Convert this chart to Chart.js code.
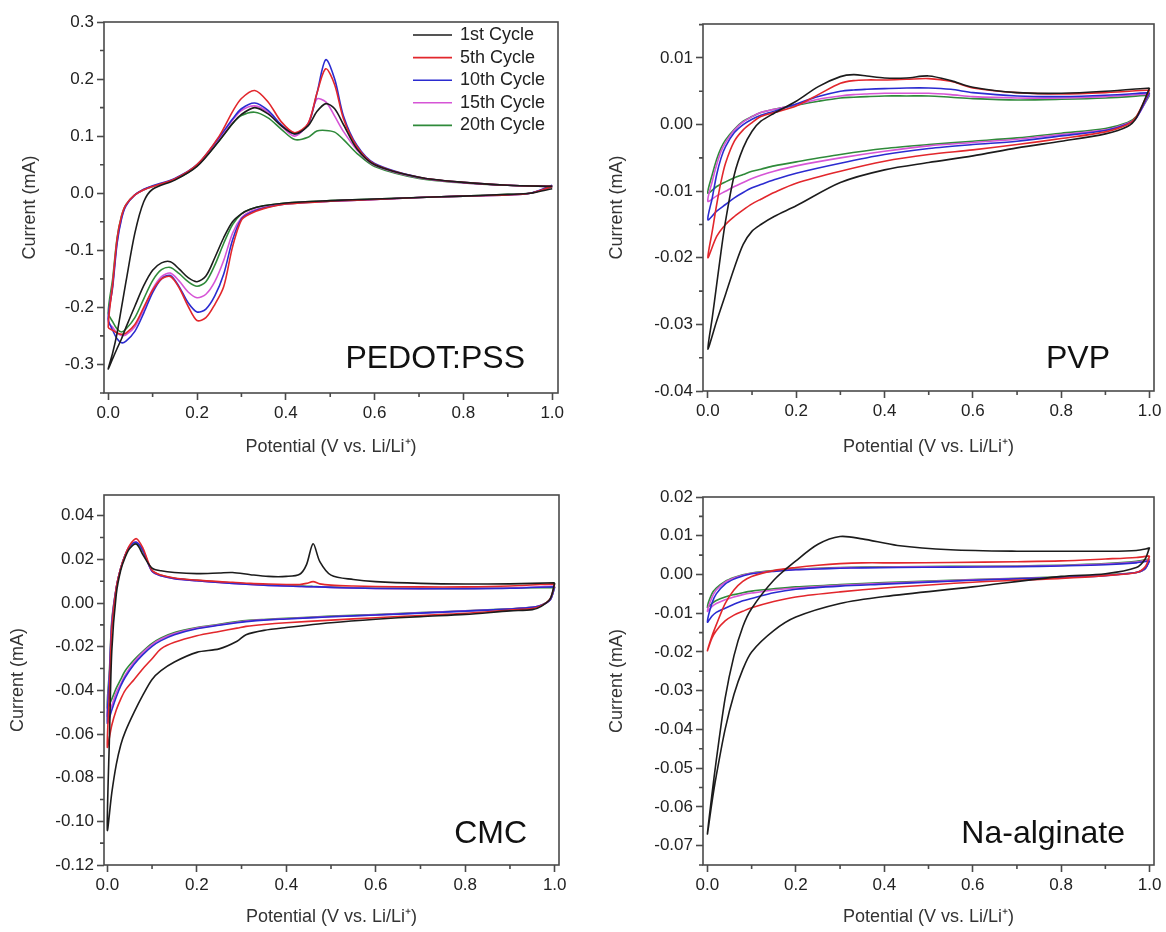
<!DOCTYPE html>
<html>
<head>
<meta charset="utf-8">
<script src="https://cdn.jsdelivr.net/npm/chart.js@4.4.1/dist/chart.umd.min.js"></script>
<style>
body { margin: 0; background: #fff; }
.panel { position: absolute; width: 583px; height: 466px; }
</style>
</head>
<body>
<div class="panel" style="left:0;top:0"><canvas id="chart0" width="583" height="466"></canvas></div>
<div class="panel" style="left:583px;top:0"><canvas id="chart1" width="583" height="466"></canvas></div>
<div class="panel" style="left:0;top:466px"><canvas id="chart2" width="583" height="466"></canvas></div>
<div class="panel" style="left:583px;top:466px"><canvas id="chart3" width="583" height="466"></canvas></div>
<script>
// each curve: cathodic sweep 1.0 -> 0.0 V, then anodic sweep back to 1.0 V
const cycle_labels = ['1st Cycle', '5th Cycle', '10th Cycle', '15th Cycle', '20th Cycle'];
const cycle_colors = ['#1c1c1c', '#e2272c', '#2b2bd0', '#d655d6', '#2f8a3a'];
const potential_ticks = [0, 0.2, 0.4, 0.6, 0.8, 1.0];

// PEDOT:PSS
const pedot_v = [1.0, 0.95, 0.9, 0.8, 0.7, 0.6, 0.5, 0.4, 0.35, 0.32, 0.3, 0.28, 0.26, 0.24, 0.22, 0.2, 0.18, 0.16, 0.14, 0.12, 0.1, 0.08, 0.06, 0.04, 0.03, 0.02, 0.01, 0.0,
    0.01, 0.02, 0.03, 0.04, 0.06, 0.08, 0.1, 0.15, 0.2, 0.25, 0.28, 0.3, 0.33, 0.36, 0.39, 0.42, 0.45, 0.47, 0.49, 0.51, 0.53, 0.56, 0.6, 0.7, 0.8, 0.9, 1.0];
const pedot_1st = [0.008, 0.0, -0.002, -0.005, -0.0075, -0.010, -0.013, -0.017, -0.022, -0.028, -0.036, -0.050, -0.078, -0.113, -0.145, -0.155, -0.148, -0.133, -0.120, -0.122, -0.135, -0.162, -0.198, -0.235, -0.255, -0.272, -0.290, -0.308,
    -0.280, -0.245, -0.200, -0.155, -0.070, -0.015, 0.007, 0.023, 0.047, 0.092, 0.122, 0.138, 0.150, 0.139, 0.118, 0.104, 0.118, 0.143, 0.157, 0.148, 0.120, 0.078, 0.050, 0.028, 0.019, 0.014, 0.012];
const pedot_5th = [0.012, 0.0, -0.003, -0.005, -0.0075, -0.011, -0.014, -0.019, -0.027, -0.036, -0.047, -0.094, -0.164, -0.195, -0.218, -0.223, -0.198, -0.166, -0.146, -0.150, -0.170, -0.200, -0.230, -0.245, -0.247, -0.245, -0.240, -0.235,
    -0.160, -0.080, -0.040, -0.020, -0.003, 0.006, 0.012, 0.025, 0.050, 0.100, 0.143, 0.166, 0.180, 0.160, 0.125, 0.106, 0.122, 0.175, 0.218, 0.190, 0.130, 0.082, 0.051, 0.028, 0.019, 0.014, 0.012];
const pedot_10th = [0.014, 0.0, -0.003, -0.005, -0.0075, -0.011, -0.014, -0.019, -0.026, -0.034, -0.045, -0.082, -0.142, -0.180, -0.203, -0.208, -0.192, -0.164, -0.144, -0.150, -0.174, -0.210, -0.242, -0.259, -0.262, -0.255, -0.240, -0.220,
    -0.165, -0.088, -0.045, -0.022, -0.003, 0.007, 0.013, 0.026, 0.050, 0.098, 0.130, 0.148, 0.158, 0.145, 0.120, 0.104, 0.120, 0.175, 0.234, 0.200, 0.135, 0.084, 0.052, 0.028, 0.019, 0.014, 0.012];
const pedot_15th = [0.012, 0.0, -0.003, -0.005, -0.0075, -0.011, -0.014, -0.018, -0.025, -0.032, -0.043, -0.070, -0.118, -0.155, -0.177, -0.183, -0.173, -0.154, -0.140, -0.146, -0.168, -0.203, -0.234, -0.248, -0.249, -0.245, -0.235, -0.225,
    -0.160, -0.085, -0.043, -0.021, -0.003, 0.006, 0.012, 0.025, 0.049, 0.096, 0.128, 0.145, 0.153, 0.142, 0.118, 0.100, 0.122, 0.165, 0.160, 0.135, 0.108, 0.076, 0.049, 0.027, 0.018, 0.014, 0.012];
const pedot_20th = [0.012, 0.0, -0.002, -0.005, -0.0075, -0.010, -0.013, -0.017, -0.022, -0.028, -0.036, -0.055, -0.088, -0.126, -0.155, -0.163, -0.155, -0.141, -0.130, -0.134, -0.153, -0.185, -0.218, -0.238, -0.243, -0.238, -0.225, -0.210,
    -0.150, -0.078, -0.040, -0.020, -0.003, 0.006, 0.012, 0.024, 0.048, 0.092, 0.122, 0.136, 0.142, 0.132, 0.112, 0.094, 0.098, 0.109, 0.110, 0.107, 0.094, 0.070, 0.047, 0.026, 0.018, 0.014, 0.012];
const pedot_y_ticks = [-0.3, -0.2, -0.1, 0.0, 0.1, 0.2, 0.3];

// PVP
const pvp_v = [1.0, 0.97, 0.95, 0.9, 0.8, 0.7, 0.6, 0.5, 0.4, 0.3, 0.2, 0.15, 0.12, 0.1, 0.08, 0.06, 0.04, 0.02, 0.0,
    0.01, 0.02, 0.03, 0.04, 0.06, 0.08, 0.1, 0.12, 0.15, 0.2, 0.25, 0.3, 0.33, 0.36, 0.4, 0.45, 0.5, 0.55, 0.6, 0.7, 0.8, 0.9, 1.0];
const pvp_1st = [0.0055, 0.001, -0.0003, -0.0014, -0.0025, -0.0035, -0.0047, -0.0057, -0.0068, -0.0087, -0.0122, -0.0138, -0.0150, -0.0160, -0.0180, -0.0215, -0.0255, -0.0295, -0.0337,
    -0.029, -0.024, -0.019, -0.0145, -0.0075, -0.0035, -0.001, 0.0005, 0.0017, 0.0035, 0.0057, 0.0072, 0.0075, 0.0073, 0.007, 0.007, 0.0073, 0.0066, 0.0056, 0.0048, 0.0047, 0.005, 0.0055];
const pvp_5th = [0.0052, 0.0012, 0.0, -0.0011, -0.0021, -0.003, -0.0038, -0.0045, -0.0055, -0.007, -0.0088, -0.0102, -0.0112, -0.0119, -0.0128, -0.0138, -0.015, -0.0168, -0.0200,
    -0.016, -0.012, -0.0085, -0.0058, -0.0025, -0.0008, 0.0003, 0.0012, 0.0018, 0.0028, 0.0045, 0.0062, 0.0066, 0.0067, 0.0067, 0.0068, 0.0069, 0.0065, 0.0055, 0.0048, 0.0046, 0.0048, 0.0052];
const pvp_10th = [0.0048, 0.001, 0.0001, -0.0009, -0.0017, -0.0025, -0.003, -0.0036, -0.0045, -0.0058, -0.0073, -0.0083, -0.009, -0.0095, -0.0102, -0.011, -0.012, -0.013, -0.0143,
    -0.011, -0.0075, -0.005, -0.0033, -0.0012, 0.0, 0.0008, 0.0014, 0.002, 0.0031, 0.0042, 0.005, 0.0052, 0.0053, 0.0054, 0.0055, 0.0055, 0.0053, 0.0048, 0.0043, 0.0042, 0.0044, 0.0048];
const pvp_15th = [0.0046, 0.001, 0.0002, -0.0008, -0.0015, -0.0022, -0.0027, -0.0032, -0.004, -0.005, -0.0062, -0.007, -0.0076, -0.0081, -0.0087, -0.0093, -0.01, -0.0107, -0.0115,
    -0.0085, -0.006, -0.004, -0.0027, -0.0008, 0.0004, 0.0012, 0.0018, 0.0023, 0.003, 0.0038, 0.0043, 0.0045, 0.0046, 0.0047, 0.0047, 0.0047, 0.0045, 0.0042, 0.004, 0.004, 0.0042, 0.0046];
const pvp_20th = [0.0044, 0.0012, 0.0003, -0.0006, -0.0013, -0.002, -0.0025, -0.003, -0.0036, -0.0045, -0.0056, -0.0062, -0.0067, -0.007, -0.0075, -0.008, -0.0086, -0.0093, -0.0103,
    -0.0075, -0.0052, -0.0035, -0.0023, -0.0007, 0.0005, 0.0012, 0.0018, 0.0023, 0.0029, 0.0035, 0.004, 0.0041, 0.0042, 0.0043, 0.0043, 0.0043, 0.0041, 0.0039, 0.0037, 0.0038, 0.004, 0.0044];
const pvp_y_ticks = [-0.04, -0.03, -0.02, -0.01, 0.0, 0.01];

// CMC
const cmc_v = [1.0, 0.99, 0.97, 0.95, 0.9, 0.8, 0.7, 0.6, 0.5, 0.4, 0.35, 0.31, 0.29, 0.25, 0.2, 0.15, 0.12, 0.1, 0.08, 0.06, 0.04, 0.03, 0.02, 0.01, 0.0,
    0.005, 0.01, 0.02, 0.03, 0.04, 0.05, 0.065, 0.08, 0.1, 0.12, 0.15, 0.2, 0.25, 0.28, 0.32, 0.36, 0.4, 0.43, 0.445, 0.46, 0.475, 0.5, 0.55, 0.6, 0.7, 0.8, 0.9, 1.0];
const cmc_1st = [0.0093, 0.002, -0.0015, -0.003, -0.0036, -0.0052, -0.0062, -0.0074, -0.009, -0.0112, -0.0125, -0.0145, -0.0175, -0.021, -0.0226, -0.027, -0.031, -0.035, -0.042, -0.050, -0.059, -0.065, -0.074, -0.087, -0.104,
    -0.060, -0.022, 0.004, 0.015, 0.021, 0.025, 0.027, 0.022, 0.016, 0.0148, 0.014, 0.0135, 0.0138, 0.014, 0.013, 0.0122, 0.0122, 0.0132, 0.0175, 0.0272, 0.019, 0.0128, 0.0108, 0.0098, 0.009, 0.0087, 0.0088, 0.0093];
const cmc_5th = [0.0088, 0.002, -0.0012, -0.0025, -0.0032, -0.0047, -0.0057, -0.0067, -0.0078, -0.009, -0.0098, -0.0107, -0.0115, -0.013, -0.015, -0.018, -0.021, -0.0255, -0.030, -0.035, -0.040, -0.044, -0.049, -0.056, -0.066,
    -0.040, -0.012, 0.007, 0.016, 0.022, 0.0265, 0.0295, 0.025, 0.015, 0.0128, 0.0115, 0.0105, 0.0098, 0.0095, 0.009, 0.0087, 0.0085, 0.0085, 0.009, 0.0098, 0.0088, 0.0082, 0.0078, 0.0076, 0.0074, 0.0074, 0.0078, 0.0088];
const cmc_10th = [0.0075, 0.0015, -0.001, -0.002, -0.0027, -0.0037, -0.0046, -0.0055, -0.0063, -0.0073, -0.0078, -0.0085, -0.009, -0.0102, -0.0118, -0.0145, -0.0172, -0.0198, -0.0235, -0.028, -0.034, -0.038, -0.043, -0.049, -0.055,
    -0.033, -0.010, 0.007, 0.016, 0.022, 0.026, 0.0278, 0.024, 0.0145, 0.0125, 0.0112, 0.0102, 0.0094, 0.009, 0.0085, 0.0081, 0.0078, 0.0076, 0.0075, 0.0075, 0.0074, 0.0072, 0.0069, 0.0067, 0.0066, 0.0066, 0.0068, 0.0075];
const cmc_15th = [0.0078, 0.0015, -0.001, -0.002, -0.0027, -0.0036, -0.0045, -0.0054, -0.0062, -0.0072, -0.0077, -0.0083, -0.0088, -0.01, -0.0115, -0.014, -0.0165, -0.019, -0.0225, -0.027, -0.033, -0.037, -0.041, -0.047, -0.052,
    -0.032, -0.009, 0.007, 0.016, 0.022, 0.026, 0.028, 0.024, 0.0145, 0.0125, 0.0112, 0.0102, 0.0094, 0.009, 0.0085, 0.0081, 0.0078, 0.0076, 0.0075, 0.0075, 0.0074, 0.0072, 0.0069, 0.0067, 0.0066, 0.0067, 0.0069, 0.0078];
const cmc_20th = [0.0072, 0.0015, -0.001, -0.002, -0.0026, -0.0035, -0.0044, -0.0053, -0.006, -0.007, -0.0075, -0.008, -0.0085, -0.0097, -0.0112, -0.0135, -0.016, -0.0185, -0.022, -0.026, -0.031, -0.035, -0.039, -0.044, -0.048,
    -0.030, -0.008, 0.007, 0.016, 0.022, 0.0255, 0.0272, 0.0235, 0.0148, 0.0127, 0.0114, 0.0104, 0.0096, 0.0092, 0.0087, 0.0083, 0.008, 0.0078, 0.0077, 0.0076, 0.0075, 0.0073, 0.007, 0.0068, 0.0067, 0.0067, 0.0069, 0.0072];
const cmc_y_ticks = [-0.12, -0.10, -0.08, -0.06, -0.04, -0.02, 0.0, 0.02, 0.04];

// Na-alginate
const alg_v = [1.0, 0.99, 0.97, 0.9, 0.8, 0.6, 0.4, 0.3, 0.2, 0.15, 0.1, 0.08, 0.06, 0.04, 0.02, 0.01, 0.0,
    0.01, 0.02, 0.04, 0.06, 0.08, 0.1, 0.15, 0.2, 0.25, 0.3, 0.35, 0.43, 0.55, 0.7, 0.8, 0.9, 0.97, 1.0];
const alg_1st = [0.007, 0.004, 0.0018, 0.0002, -0.0005, -0.0032, -0.0057, -0.0075, -0.011, -0.0145, -0.020, -0.0245, -0.031, -0.040, -0.052, -0.059, -0.067,
    -0.057, -0.048, -0.032, -0.021, -0.0135, -0.0088, -0.0015, 0.0035, 0.0078, 0.0098, 0.0092, 0.0075, 0.0064, 0.006, 0.006, 0.006, 0.0062, 0.0068];
const alg_5th = [0.0048, 0.002, 0.0005, -0.0003, -0.001, -0.002, -0.0035, -0.0045, -0.0058, -0.007, -0.0086, -0.0095, -0.0105, -0.012, -0.0145, -0.0165, -0.0197,
    -0.016, -0.013, -0.0075, -0.004, -0.0018, -0.0005, 0.001, 0.0018, 0.0024, 0.0028, 0.003, 0.003, 0.0031, 0.0033, 0.0035, 0.004, 0.0044, 0.0048];
const alg_10th = [0.0035, 0.0015, 0.0005, -0.0003, -0.0008, -0.0015, -0.0025, -0.003, -0.0038, -0.0047, -0.0062, -0.0068, -0.0077, -0.0087, -0.0098, -0.0108, -0.0123,
    -0.0075, -0.005, -0.0025, -0.0012, -0.0004, 0.0002, 0.0008, 0.0012, 0.0014, 0.0016, 0.0017, 0.0018, 0.0019, 0.002, 0.0022, 0.0025, 0.003, 0.0035];
const alg_15th = [0.0038, 0.0015, 0.0005, -0.0002, -0.0007, -0.0014, -0.0023, -0.0028, -0.0035, -0.004, -0.0048, -0.0052, -0.0058, -0.0065, -0.0075, -0.0083, -0.0095,
    -0.006, -0.004, -0.002, -0.0009, -0.0002, 0.0003, 0.0009, 0.0013, 0.0015, 0.0017, 0.0018, 0.0019, 0.002, 0.0021, 0.0023, 0.0027, 0.0032, 0.0038];
const alg_20th = [0.004, 0.0015, 0.0005, -0.0001, -0.0006, -0.0013, -0.0021, -0.0026, -0.0032, -0.0037, -0.0043, -0.0047, -0.0052, -0.0058, -0.0067, -0.0075, -0.0085,
    -0.005, -0.0035, -0.0018, -0.0008, -0.0001, 0.0004, 0.001, 0.0014, 0.0016, 0.0018, 0.0019, 0.002, 0.0021, 0.0022, 0.0024, 0.0028, 0.0034, 0.004];
const alg_y_ticks = [-0.07, -0.06, -0.05, -0.04, -0.03, -0.02, -0.01, 0.0, 0.01, 0.02];

const axis_color = '#4a4a4a';
const font_family = '"Liberation Sans", Arial, sans-serif';
Chart.defaults.font.family = font_family;
Chart.defaults.color = '#222';

function to_points(v, cur) {
    if (v.length !== cur.length) console.error('length mismatch', v.length, cur.length);
    return v.map((x, k) => ({x: x, y: cur[k]}));
}

// box round the plot plus short minor ticks half way between the labelled ones
const frame_plugin = {
    id: 'frame',
    afterDraw(chart) {
        const ctx = chart.ctx;
        const a = chart.chartArea;
        ctx.save();
        ctx.strokeStyle = axis_color;
        ctx.lineWidth = 1.6;
        ctx.strokeRect(a.left, a.top, a.right - a.left, a.bottom - a.top);
        ['x', 'y'].forEach(id => {
            const s = chart.scales[id];
            const vals = s.ticks.map(t => t.value);
            const half = (vals[1] - vals[0]) / 2;
            const minors = [vals[0] - half, ...vals.map(v => v + half)];
            ctx.beginPath();
            minors.forEach(m => {
                if (m < s.min - 1e-9 || m > s.max + 1e-9) return;
                const p = s.getPixelForValue(m);
                if (id === 'x') { ctx.moveTo(p, a.bottom); ctx.lineTo(p, a.bottom + 4); }
                else { ctx.moveTo(a.left, p); ctx.lineTo(a.left - 4, p); }
            });
            ctx.stroke();
        });
        ctx.restore();
    }
};

function label_plugin(text, dx, dy) {
    return {
        id: 'panel_label',
        afterDraw(chart) {
            const ctx = chart.ctx;
            const a = chart.chartArea;
            ctx.save();
            ctx.font = '32px ' + font_family;
            ctx.fillStyle = '#111';
            ctx.textAlign = 'right';
            ctx.fillText(text, a.right - dx, a.bottom - dy);
            ctx.restore();
        }
    };
}

const legend_plugin = {
    id: 'cycle_legend',
    afterDraw(chart) {
        const ctx = chart.ctx;
        const a = chart.chartArea;
        ctx.save();
        ctx.font = '18px ' + font_family;
        ctx.textBaseline = 'middle';
        chart.data.datasets.forEach((d, k) => {
            const y = a.top + 13 + k * 22.6;
            ctx.strokeStyle = d.borderColor;
            ctx.lineWidth = 1.6;
            ctx.beginPath();
            ctx.moveTo(a.right - 145, y);
            ctx.lineTo(a.right - 106, y);
            ctx.stroke();
            ctx.fillStyle = '#222';
            ctx.fillText(d.label, a.right - 98, y);
        });
        ctx.restore();
    }
};

function create_chart(canvas_id, v, currents, y_ticks, x_range, y_range, digits, box, extra_plugins) {
    const datasets = [];
    for (let i = 0; i < currents.length; i++)
        datasets.push({
            label: cycle_labels[i],
            data: to_points(v, currents[i]),
            borderColor: cycle_colors[i],
            backgroundColor: cycle_colors[i],
            showLine: true,
            pointRadius: 0,
            borderWidth: 1.6,
            tension: 0.3,
        });

    return new Chart(document.getElementById(canvas_id), {
        type: 'scatter',
        data: {datasets: datasets},
        plugins: [frame_plugin, ...extra_plugins],
        options: {
            responsive: false,
            animation: false,
            layout: {padding: {top: box.top, right: box.right, left: 0, bottom: 0}},
            plugins: {legend: {display: false}, tooltip: {enabled: false}},
            scales: {
                x: {
                    type: 'linear',
                    min: x_range[0],
                    max: x_range[1],
                    afterBuildTicks: s => { s.ticks = potential_ticks.map(t => ({value: t})); },
                    afterFit: s => { s.height = box.x_height; },
                    ticks: {callback: t => t.toFixed(1), font: {size: 17}, padding: 3, maxRotation: 0, autoSkip: false},
                    grid: {drawOnChartArea: false, tickLength: 7, tickColor: axis_color, tickWidth: 1.6},
                    border: {display: false},
                    title: {display: true, text: 'Potential (V vs. Li/Li\u207A)', color: '#333', font: {size: 18}, padding: {top: 0, bottom: box.x_title}}
                },
                y: {
                    type: 'linear',
                    min: y_range[0],
                    max: y_range[1],
                    afterBuildTicks: s => { s.ticks = y_ticks.map(t => ({value: t})); },
                    afterFit: s => { s.width = box.y_width; },
                    ticks: {callback: t => t.toFixed(digits), font: {size: 17}, padding: 3, autoSkip: false},
                    grid: {drawOnChartArea: false, tickLength: 7, tickColor: axis_color, tickWidth: 1.6},
                    border: {display: false},
                    title: {display: true, text: 'Current (mA)', color: '#333', font: {size: 18}, padding: {top: box.y_title, bottom: 0}}
                }
            }
        }
    });
}

create_chart('chart0', pedot_v, [pedot_1st, pedot_5th, pedot_10th, pedot_15th, pedot_20th], pedot_y_ticks,
    [-0.0095, 1.013], [-0.35, 0.3], 1,
    {top: 22, right: 25, x_height: 73, y_width: 104, x_title: 8, y_title: 19},
    [legend_plugin, label_plugin('PEDOT:PSS', 33, 25)]);
create_chart('chart1', pvp_v, [pvp_1st, pvp_5th, pvp_10th, pvp_15th, pvp_20th], pvp_y_ticks,
    [-0.011, 1.01], [-0.04, 0.0151], 2,
    {top: 24, right: 12, x_height: 75, y_width: 120, x_title: 8, y_title: 23},
    [label_plugin('PVP', 44, 23)]);
create_chart('chart2', cmc_v, [cmc_1st, cmc_5th, cmc_10th, cmc_15th, cmc_20th], cmc_y_ticks,
    [-0.0074, 1.0096], [-0.12, 0.0495], 2,
    {top: 29, right: 24, x_height: 67, y_width: 104, x_title: 4, y_title: 7},
    [label_plugin('CMC', 32, 22)]);
create_chart('chart3', alg_v, [alg_1st, alg_5th, alg_10th, alg_15th, alg_20th], alg_y_ticks,
    [-0.010, 1.01], [-0.075, 0.02], 2,
    {top: 31, right: 12, x_height: 67, y_width: 120, x_title: 4, y_title: 23},
    [label_plugin('Na-alginate', 29, 22)]);
</script>
</body>
</html>
